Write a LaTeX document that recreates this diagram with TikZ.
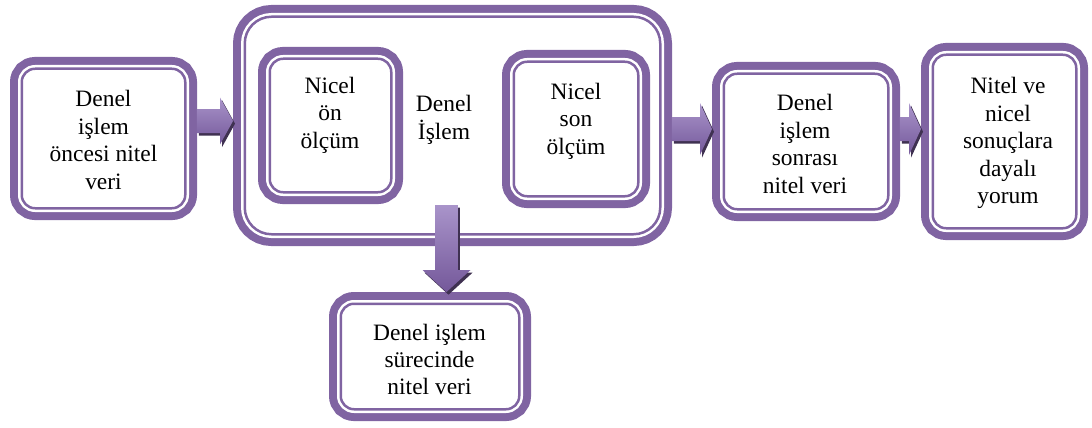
\documentclass[tikz,border=0pt]{standalone}
\usepackage{fontspec}
\setmainfont{Liberation Serif}
\newfontfamily\tnrfont{Liberation Serif}
\usetikzlibrary{calc}
\definecolor{pur}{HTML}{8064A2}
\definecolor{arrtop}{HTML}{A994CA}
\definecolor{arrbot}{HTML}{74589A}
\definecolor{arrsh}{HTML}{3F3151}
\begin{document}
\begin{tikzpicture}[x=0.75pt,y=-0.75pt,
  box/.style={rounded corners=#1, fill=white, draw=pur, line width=1.875pt,
    preaction={draw=pur, line width=17.625pt},
    preaction={draw=white, line width=5.625pt},
    outer sep=8.8pt, inner sep=0pt},
  box/.default=10pt,
  sz/.style 2 args={minimum width=#1*0.75pt, minimum height=#2*0.75pt},
  txt/.style={align=center, inner sep=0pt, font=\tnrfont\fontsize{17.6pt}{20.6pt}\selectfont},
  barrow/.style n args={3}{top color=arrtop, bottom color=arrbot, draw=none,
    preaction={fill=arrsh, transform canvas={xshift=1.5pt,yshift=-2pt}},
    to path={($(\tikztostart)!#1!90:(\tikztotarget)$)
      -- ($(\tikztotarget)!#3!(\tikztostart)!#1!-90:(\tikztostart)$)
      -- ($(\tikztotarget)!#3!(\tikztostart)!#2!-90:(\tikztostart)$)
      -- (\tikztotarget)
      -- ($(\tikztotarget)!#3!(\tikztostart)!#2!90:(\tikztostart)$)
      -- ($(\tikztotarget)!#3!(\tikztostart)!#1!90:(\tikztostart)$)
      -- ($(\tikztostart)!#1!-90:(\tikztotarget)$) -- cycle}}
]
\useasboundingbox (0,0) rectangle (1092,428);
% boxes
\node[box, sz={163.5}{139.5}] (b1) at (103.5,138.5) {};
\node[box=20pt, sz={415.5}{217.5}] (big) at (452.5,125.5) {};
\node[box, sz={121.5}{133.5}] (in1) at (330.5,125.5) {};
\node[box, sz={124.5}{134.5}] (in2) at (576,129) {};
\node[box, sz={164.5}{135.5}] (b3) at (806,141.5) {};
\node[box, sz={143.5}{173.5}] (b4) at (1004.5,141.5) {};
\node[box, sz={178.5}{105.5}] (b5) at (430,356.5) {};
% texts
\node[txt] (t1) at (103.5,140) {Denel\\işlem\\öncesi nitel\\veri};
\node[txt] (tbig) at (444,120) {Denel\\İşlem};
\node[txt] (tin1) at (330,115) {Nicel\\ön\\ölçüm};
\node[txt] (tin2) at (576,121) {Nicel\\son\\ölçüm};
\node[txt] (t3) at (805,144) {Denel\\işlem\\sonrası\\nitel veri};
\node[txt] (t4) at (1008,143) {Nitel ve\\nicel\\sonuçlara\\dayalı\\yorum};
\node[txt] (t5) at (429.5,359.5) {Denel işlem\\sürecinde\\nitel veri};
% arrows
\coordinate (r1) at (0,121);
\coordinate (r2) at (0,129);
\coordinate (a4s) at (446.5,205);
\path[barrow={9pt}{17.6pt}{9.75pt}] (b1.east |- r1) to (big.west |- r1);
\path[barrow={9pt}{19.5pt}{9pt}] (big.east |- r2) to (b3.west |- r2);
\path[barrow={9pt}{19.5pt}{9pt}] (b3.east |- r2) to (b4.west |- r2);
\path[barrow={8.6pt}{18pt}{16.5pt}] (a4s) to (a4s |- b5.north);
\end{tikzpicture}
\end{document}
